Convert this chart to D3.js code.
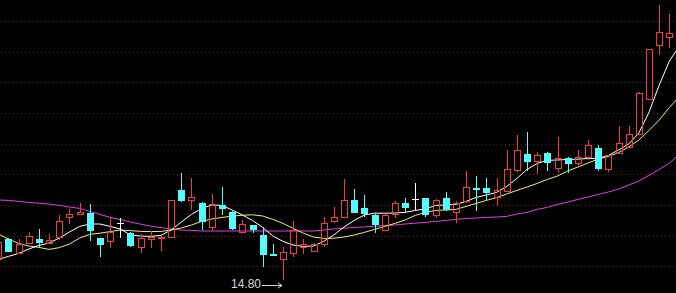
<!DOCTYPE html>
<html>
<head>
<meta charset="utf-8">
<script src="https://cdn.jsdelivr.net/npm/d3@7"></script>
<style>
html, body { margin: 0; padding: 0; background: #000; }
svg { display: block; }
</style>
</head>
<body>
<svg width="676" height="293"></svg>
<script>
// daily bars, oldest first (prices)
var open  = [15.84,16.84,16.17,16.64,16.85,16.65,16.97,17.97,18.09,18.14,
             16.89,16.77,17.63,17.14,16.44,16.87,16.89,16.93,19.30,18.78,
             18.67,17.47,18.55,18.22,17.22,17.55,17.05,16.10,15.84,16.14,
             16.47,16.27,16.59,17.75,17.97,18.80,18.39,18.05,17.30,18.10,
             18.67,18.85,18.89,18.05,18.89,18.22,18.77,19.39,19.39,18.93,
             19.27,20.32,21.10,20.77,21.13,20.42,20.89,20.64,20.97,21.39,
             20.34,21.14,21.47,22.09,23.87,26.55,26.94];
var high  = [16.80,16.88,16.83,17.22,17.35,17.08,18.03,18.33,18.67,18.60,
             16.90,17.89,17.89,17.18,17.10,17.27,16.98,18.82,20.14,19.89,
             18.68,19.09,19.47,18.23,17.80,17.55,17.47,16.60,16.45,17.75,
             16.84,16.63,17.94,18.47,19.85,19.35,19.05,18.17,18.08,18.75,
             18.92,19.64,18.90,18.83,19.22,18.75,20.23,20.00,19.89,19.89,
             21.30,22.05,22.19,21.22,21.22,21.94,20.97,21.30,21.80,21.55,
             21.05,22.50,22.50,24.20,26.35,28.55,28.09];
var low   = [15.80,16.18,16.10,16.63,16.38,16.63,16.78,17.60,18.08,16.77,
             15.97,16.38,16.88,16.43,16.17,16.40,16.27,16.92,18.68,18.30,
             17.30,17.27,18.05,17.30,17.17,17.14,15.47,15.98,14.80,15.94,
             16.09,16.25,16.44,17.67,17.95,18.13,17.97,17.14,17.28,17.89,
             18.22,18.30,17.97,17.92,18.27,17.65,18.64,18.27,18.80,18.50,
             19.25,20.20,20.25,20.08,20.27,20.17,20.17,20.39,20.80,20.27,
             20.22,21.13,21.45,22.08,23.85,26.05,26.39];
var close = [16.72,16.22,16.60,17.00,16.63,16.80,17.75,18.09,18.22,17.27,
             16.55,17.22,17.63,16.50,16.89,16.95,16.97,18.80,18.73,18.94,
             17.72,18.59,18.34,17.35,17.59,17.30,16.05,16.00,16.22,17.30,
             16.60,16.60,17.64,17.94,18.80,18.14,18.10,17.55,18.05,18.67,
             18.39,18.85,18.05,18.80,18.30,18.67,19.44,19.29,19.17,19.29,
             20.34,21.30,20.72,21.05,20.64,20.89,20.59,20.94,21.55,20.34,
             21.05,21.64,22.09,24.14,26.34,27.19,27.14];

// moving averages as drawn (one more point than bars: the line runs off the right edge)
var ma5  = [15.83,15.98,16.13,16.35,16.53,16.65,16.90,17.20,17.48,17.60,
            17.60,17.48,17.35,17.05,17.00,16.98,17.03,17.30,17.70,18.08,
            18.38,18.55,18.53,18.30,18.05,17.78,17.43,17.00,16.73,16.55,
            16.48,16.50,16.73,17.05,17.45,17.78,18.05,18.14,18.14,18.15,
            18.18,18.28,18.35,18.53,18.55,18.58,18.73,18.93,19.05,19.18,
            19.48,19.88,20.33,20.63,20.78,20.80,20.83,20.84,20.88,20.88,
            21.03,21.30,21.60,22.15,23.20,24.55,25.75,26.52];
var ma10 = [17.10,16.85,16.63,16.50,16.43,16.33,16.42,16.60,16.90,17.08,
            17.14,17.22,17.30,17.27,17.23,17.22,17.23,17.30,17.40,17.55,
            17.73,17.85,17.93,17.99,18.04,18.06,18.00,17.83,17.63,17.38,
            17.14,16.95,16.88,16.89,16.95,17.05,17.18,17.33,17.48,17.63,
            17.80,18.03,18.18,18.28,18.30,18.33,18.48,18.63,18.78,18.92,
            19.10,19.28,19.45,19.63,19.83,20.00,20.25,20.45,20.65,20.85,
            20.98,21.17,21.45,21.80,22.28,22.80,23.43,23.98];
var ma30 = [18.80,18.78,18.73,18.68,18.64,18.60,18.53,18.45,18.38,18.23,
            18.08,17.93,17.82,17.70,17.59,17.49,17.42,17.35,17.30,17.28,
            17.25,17.25,17.25,17.25,17.25,17.25,17.25,17.25,17.25,17.25,
            17.25,17.25,17.30,17.35,17.39,17.43,17.45,17.49,17.52,17.55,
            17.60,17.64,17.68,17.73,17.78,17.83,17.88,17.90,17.93,17.95,
            17.98,18.10,18.18,18.33,18.43,18.58,18.70,18.83,18.95,19.08,
            19.20,19.35,19.55,19.75,20.03,20.33,20.65,21.08];

var svg = d3.select("svg"),
    width = +svg.attr("width"),
    height = +svg.attr("height");

svg.append("rect").attr("width", width).attr("height", height).attr("fill", "#000");

var x = d3.scaleLinear().domain([0, open.length - 1]).range([-1.7, 669.4]);
var y = d3.scaleLinear().domain([13.8, 28.8]).range([300, 0]);

// dotted horizontal grid, evenly split like the trading software does
var grid = svg.append("g");
d3.range(9).forEach(function(k) {
    var gy = Math.round(21 + k * 245.33 / 8) + 0.5;
    grid.append("line")
        .attr("x1", 1).attr("x2", width)
        .attr("y1", gy).attr("y2", gy)
        .attr("stroke", "#6a1616")
        .attr("stroke-dasharray", "1,3");
});

// moving average lines
var line = d3.line()
    .x(function(d, i) { return x(i); })
    .y(function(d) { return y(d); });

[[ma30, "#e040e0"], [ma10, "#f0f060"], [ma5, "#ffffff"]].forEach(function(s) {
    svg.append("path")
        .datum(s[0])
        .attr("fill", "none")
        .attr("stroke", s[1])
        .attr("stroke-width", 1)
        .attr("d", line);
});

// candles
var up = "#f03c3c", down = "#54fcfc", flat = "#ffffff";
var g = svg.append("g").attr("shape-rendering", "crispEdges");

open.forEach(function(o, i) {
    var c = close[i];
    var px = Math.round(x(i));
    var yHi = Math.round(y(high[i])), yLo = Math.round(y(low[i]));
    var yTop = Math.round(y(Math.max(o, c))), yBot = Math.round(y(Math.min(o, c)));
    var col = c > o ? up : (c < o ? down : flat);

    if (c > o) {
        // hollow red body, wicks stop at the body
        g.append("line").attr("x1", px + 0.5).attr("x2", px + 0.5)
            .attr("y1", yHi).attr("y2", yTop).attr("stroke", col);
        g.append("line").attr("x1", px + 0.5).attr("x2", px + 0.5)
            .attr("y1", yBot).attr("y2", yLo).attr("stroke", col);
        g.append("rect")
            .attr("x", px - 2.5).attr("width", 6)
            .attr("y", yTop + 0.5).attr("height", Math.max(1, yBot - yTop))
            .attr("fill", "none").attr("stroke", col);
    } else if (c < o) {
        g.append("line").attr("x1", px + 0.5).attr("x2", px + 0.5)
            .attr("y1", yHi).attr("y2", yLo).attr("stroke", col);
        g.append("rect")
            .attr("x", px - 3).attr("width", 7)
            .attr("y", yTop).attr("height", Math.max(1, yBot - yTop))
            .attr("fill", col);
    } else {
        g.append("line").attr("x1", px + 0.5).attr("x2", px + 0.5)
            .attr("y1", yHi).attr("y2", yLo).attr("stroke", col);
        g.append("line").attr("x1", px - 3).attr("x2", px + 4)
            .attr("y1", yTop + 0.5).attr("y2", yTop + 0.5).attr("stroke", col);
    }
});

// lowest low marker
var iMin = d3.minIndex(low);
var lx = x(iMin), ly = y(low[iMin]);
svg.append("text")
    .attr("x", lx - 22).attr("y", ly + 8)
    .attr("text-anchor", "end")
    .attr("fill", "#d8d8d8")
    .style("font-family", "'Liberation Sans', Arial, sans-serif")
    .style("font-size", "12px")
    .text(d3.format(".2f")(low[iMin]));
svg.append("line")
    .attr("x1", lx - 21).attr("x2", lx - 1)
    .attr("y1", Math.round(ly + 5) + 0.5).attr("y2", Math.round(ly + 5) + 0.5)
    .attr("stroke", "#d8d8d8");
svg.append("path")
    .attr("d", "M" + (lx - 5) + "," + (Math.round(ly + 5) - 2) + "L" + (lx - 1) + "," + (Math.round(ly + 5) + 0.5) + "L" + (lx - 5) + "," + (Math.round(ly + 5) + 3))
    .attr("fill", "none")
    .attr("stroke", "#d8d8d8");
</script>
</body>
</html>
